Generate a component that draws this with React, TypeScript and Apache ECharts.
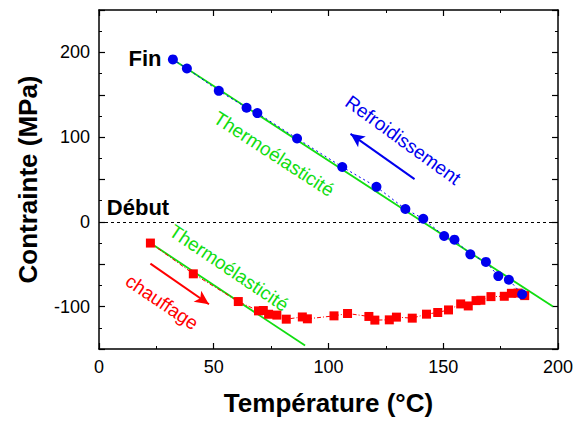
import React, { useEffect, useRef } from "react";
import * as echarts from "echarts";

// Cooling (blue circles)
const blueT = [32.2, 38.3, 52.2, 64.3, 69.0, 86.3, 106.0, 120.9, 133.5, 141.3, 150.4, 154.9, 161.8, 168.6, 174.0, 178.6, 184.4];
const blueS = [191.7, 181, 154.6, 134.7, 128.4, 98.4, 64.8, 41.3, 15.2, 3.7, -16.7, -21, -38.3, -47.2, -64, -68.3, -85.5];

// Heating (red squares)
const redT = [22.4, 41.1, 60.7, 69.5, 71.6, 73.9, 77.5, 81.6, 88.6, 90.8, 102.4, 108.3, 117.6, 120.2, 126.5, 129.6, 136.5, 142.7, 147.6, 152.3, 157.6, 160.9, 164.3, 166.4, 170.8, 176.6, 179.7, 182.6, 185.5];
const redS = [-25, -61.3, -94, -105, -104.6, -109, -110, -114.8, -112.2, -114.4, -110.9, -108.1, -111.6, -115.9, -115.6, -112.4, -113.6, -108.9, -106.9, -103.9, -96.8, -99.2, -92.9, -92.5, -88.2, -87.8, -84.3, -84, -87];

// Thermoelastic fit lines
const fitUpperT = [32.2, 197.8];
const fitUpperS = [191.7, -99.9];
const fitLowerT = [22.4, 89.8];
const fitLowerS = [-25, -146];

// Arrows (start -> end)
const coolArrowT = [137.5, 109.6];
const coolArrowS = [50.4, 103.9];
const heatArrowT = [22.4, 47.9];
const heatArrowS = [-49.2, -97.2];

const xTicks = { min: 0, max: 200, interval: 50 };
const yTicks = { min: -150, max: 250, interval: 50 };

const zip = (a: number[], b: number[]) => a.map((v, i) => [v, b[i]]);

const BLUE = "#0000ee";
const RED = "#ff0000";
const GREEN = "#11dd11";
const FONT = "Liberation Sans, Arial, sans-serif";

export default function App() {
  const ref = useRef<HTMLDivElement>(null);
  useEffect(() => {
    if (!ref.current) return;
    const chart = echarts.init(ref.current, null, { renderer: "svg" });
    const axisCommon = {
      type: "value" as const,
      axisLine: { show: true, onZero: false, lineStyle: { color: "#000", width: 1.5 } },
      axisTick: { show: true, inside: true, length: 6, lineStyle: { color: "#000", width: 1.2 } },
      minorTick: { show: true, splitNumber: 2, length: 3, lineStyle: { color: "#000", width: 1 } },
      splitLine: { show: false },
      minorSplitLine: { show: false },
    };
    const rad = (d: number) => (d * Math.PI) / 180;
    chart.setOption({
      animation: false,
      backgroundColor: "#fff",
      grid: { left: 99, right: 16, top: 10, bottom: 70, containLabel: false },
      xAxis: [
        {
          ...axisCommon,
          ...xTicks,
          position: "bottom",
          name: "Température (°C)",
          nameLocation: "middle",
          nameGap: 41,
          nameTextStyle: { fontSize: 26, fontWeight: "bold", color: "#000", fontFamily: FONT },
          axisLabel: { fontSize: 18, color: "#000", fontFamily: FONT, margin: 9 },
        },
        {
          ...axisCommon,
          ...xTicks,
          position: "top",
          axisLabel: { show: false },
        },
      ],
      yAxis: [
        {
          ...axisCommon,
          ...yTicks,
          position: "left",
          name: "Contrainte (MPa)",
          nameLocation: "middle",
          nameGap: 58,
          nameTextStyle: { fontSize: 26, fontWeight: "bold", color: "#000", fontFamily: FONT },
          axisLabel: {
            fontSize: 18,
            color: "#000",
            fontFamily: FONT,
            margin: 9,
            formatter: (v: number) => (v === 250 || v === -150 || v % 100 !== 0 ? "" : String(v)),
          },
        },
        {
          ...axisCommon,
          ...yTicks,
          position: "right",
          axisLabel: { show: false },
        },
      ],
      series: [
        {
          type: "line",
          data: zip(fitUpperT, fitUpperS),
          symbol: "none",
          lineStyle: { color: GREEN, width: 1.8 },
          z: 3,
        },
        {
          type: "line",
          data: zip(fitLowerT, fitLowerS),
          symbol: "none",
          lineStyle: { color: GREEN, width: 1.8 },
          z: 3,
        },
        {
          type: "line",
          data: zip(redT, redS),
          symbol: "rect",
          symbolSize: 9,
          itemStyle: { color: RED },
          lineStyle: { color: RED, width: 1, type: [4, 2, 1, 2] },
          z: 4,
          markLine: {
            silent: true,
            symbol: ["none", "none"],
            label: { show: false },
            lineStyle: { color: "#000", width: 1, type: [3, 3] },
            data: [{ yAxis: 0 }],
          },
        },
        {
          type: "line",
          data: zip(blueT, blueS),
          symbol: "circle",
          symbolSize: 10,
          itemStyle: { color: BLUE },
          lineStyle: { color: BLUE, width: 1, type: [2, 3] },
          z: 5,
        },
        {
          type: "line",
          data: [],
          markLine: {
            silent: true,
            symbol: ["none", "arrow"],
            symbolSize: [10, 14],
            label: { show: false },
            data: [
              [
                { coord: [coolArrowT[0], coolArrowS[0]], lineStyle: { color: BLUE, width: 2, type: "solid" } },
                { coord: [coolArrowT[1], coolArrowS[1]] },
              ],
              [
                { coord: [heatArrowT[0], heatArrowS[0]], lineStyle: { color: RED, width: 2, type: "solid" } },
                { coord: [heatArrowT[1], heatArrowS[1]] },
              ],
            ],
          },
        },
      ],
      graphic: [
        {
          type: "text",
          x: 145,
          y: 58,
          style: { text: "Fin", fontSize: 22, fontWeight: "bold", fill: "#000", fontFamily: FONT, align: "center", verticalAlign: "middle" },
        },
        {
          type: "text",
          x: 138,
          y: 207,
          style: { text: "Début", fontSize: 22, fontWeight: "bold", fill: "#000", fontFamily: FONT, align: "center", verticalAlign: "middle" },
        },
        {
          type: "text",
          x: 274,
          y: 154,
          rotation: -rad(33),
          style: { text: "Thermoélasticité", fontSize: 19, fill: GREEN, fontFamily: FONT, align: "center", verticalAlign: "middle" },
        },
        {
          type: "text",
          x: 229,
          y: 268,
          rotation: -rad(34),
          style: { text: "Thermoélasticité", fontSize: 19, fill: GREEN, fontFamily: FONT, align: "center", verticalAlign: "middle" },
        },
        {
          type: "text",
          x: 403,
          y: 140,
          rotation: -rad(36),
          style: { text: "Refroidissement", fontSize: 19, fill: BLUE, fontFamily: FONT, align: "center", verticalAlign: "middle" },
        },
        {
          type: "text",
          x: 162,
          y: 302,
          rotation: -rad(34),
          style: { text: "chauffage", fontSize: 19, fill: RED, fontFamily: FONT, align: "center", verticalAlign: "middle" },
        },
      ],
    });
    return () => chart.dispose();
  }, []);
  return <div ref={ref} style={{ position: "fixed", left: 0, top: 0, width: 576, height: 421 }} />;
}
